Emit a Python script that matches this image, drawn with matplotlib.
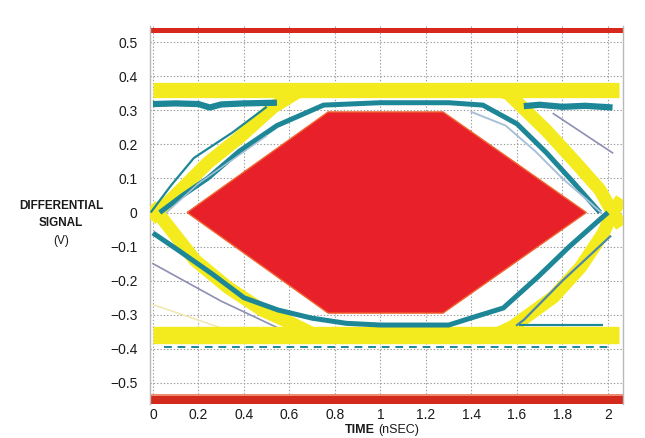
import matplotlib
matplotlib.use("Agg")
import matplotlib.pyplot as plt
from matplotlib.patches import Polygon

plt.rcParams['font.family'] = ['Liberation Sans', 'DejaVu Sans']

# ---- axis ticks ----
x_ticks = [0, 0.2, 0.4, 0.6, 0.8, 1.0, 1.2, 1.4, 1.6, 1.8, 2.0]
x_tick_labels = ['0', '0.2', '0.4', '0.6', '0.8', '1', '1.2', '1.4', '1.6', '1.8', '2']
y_ticks = [0.5, 0.4, 0.3, 0.2, 0.1, 0.0, -0.1, -0.2, -0.3, -0.4, -0.5]
y_tick_labels = ['0.5', '0.4', '0.3', '0.2', '0.1', '0',
                 '\u22120.1', '\u22120.2', '\u22120.3', '\u22120.4', '\u22120.5']

# ---- eye mask (hexagon) ----
mask_x = [0.15, 0.77, 1.275, 1.905, 1.275, 0.77]
mask_y = [0.0, 0.295, 0.295, 0.0, -0.295, -0.295]

# ---- yellow eye traces ----
yellow_top_x = [0.0, 2.05]
yellow_top_y = [0.36, 0.36]
yellow_bot_x = [0.0, 2.05]
yellow_bot_y = [-0.36, -0.36]
yellow_rise_l_x = [-0.01, 0.02, 0.09, 0.24, 0.38, 0.53, 0.64]
yellow_rise_l_y = [-0.02, 0.0, 0.045, 0.145, 0.22, 0.31, 0.355]
yellow_fall_l_x = [-0.01, 0.02, 0.185, 0.33, 0.48, 0.625, 0.70]
yellow_fall_l_y = [0.02, 0.0, -0.14, -0.22, -0.286, -0.33, -0.355]
yellow_fall_r_x = [1.50, 1.56, 1.73, 1.86, 1.965, 2.02, 2.06]
yellow_fall_r_y = [0.36, 0.35, 0.24, 0.145, 0.066, 0.0, -0.04]
yellow_rise_r_x = [1.50, 1.58, 1.76, 1.88, 1.98, 2.02, 2.06]
yellow_rise_r_y = [-0.36, -0.335, -0.248, -0.16, -0.06, 0.0, 0.04]

# ---- teal eye traces ----
teal_top_l_x = [0.0, 0.1, 0.2, 0.25, 0.3, 0.4, 0.545]
teal_top_l_y = [0.318, 0.32, 0.318, 0.308, 0.317, 0.32, 0.322]
teal_top_r_x = [1.63, 1.7, 1.8, 1.9, 2.02]
teal_top_r_y = [0.312, 0.316, 0.31, 0.313, 0.308]
teal_upper_x = [0.03, 0.13, 0.24, 0.38, 0.545, 0.75, 1.0, 1.3, 1.45, 1.6, 1.73, 1.85, 1.965]
teal_upper_y = [0.0, 0.05, 0.10, 0.18, 0.255, 0.315, 0.322, 0.322, 0.315, 0.26, 0.175, 0.087, 0.0]
teal_lower_x = [0.0, 0.11, 0.26, 0.40, 0.55, 0.70, 0.85, 1.0, 1.3, 1.395, 1.54, 1.69, 1.83, 1.965, 2.0]
teal_lower_y = [-0.06, -0.11, -0.18, -0.25, -0.286, -0.31, -0.325, -0.33, -0.33, -0.31, -0.28, -0.19, -0.10, -0.02, 0.0]
teal_outer_l_x = [-0.01, 0.08, 0.18, 0.35, 0.50]
teal_outer_l_y = [0.0, 0.08, 0.16, 0.235, 0.31]
teal_outer_r_x = [1.60, 1.63, 1.80, 2.01]
teal_outer_r_y = [-0.33, -0.315, -0.20, -0.07]
teal_bot_r_x = [1.61, 1.98]
teal_bot_r_y = [-0.33, -0.33]
teal_under_x = [0.05, 2.0]
teal_under_y = [-0.393, -0.393]

# ---- thin grey traces ----
grey_ll_x = [0.0, 0.3, 0.57]
grey_ll_y = [-0.15, -0.26, -0.345]
grey_tr_x = [1.76, 2.02]
grey_tr_y = [0.29, 0.175]
pale_ll_x = [0.0, 0.35]
pale_ll_y = [-0.27, -0.35]
light_ur_x = [1.40, 1.55, 1.68, 1.80, 1.92, 1.97]
light_ur_y = [0.295, 0.255, 0.18, 0.10, 0.03, 0.0]
light_ul_x = [0.06, 0.2, 0.35, 0.5]
light_ul_y = [0.0, 0.085, 0.155, 0.225]

YELLOW = '#F4EB1E'
TEAL = '#1E8797'
RED = '#E8202A'

fig = plt.figure(figsize=(6.45, 4.38), dpi=100)
fig.patch.set_facecolor('white')
ax = fig.add_axes([150 / 645, 1 - 404 / 438, (623 - 150) / 645, (404 - 26) / 438])
ax.set_xlim(-0.013, 2.066)
ax.set_ylim(-0.5616, 0.547)

# graticule
for yv in y_ticks:
    ax.axhline(yv, color='#9a9a9a', lw=0.8, ls=(0, (1.2, 1.8)), zorder=0)
for xv in x_ticks:
    ax.axvline(xv, color='#9a9a9a', lw=0.8, ls=(0, (1.2, 1.8)), zorder=0)

# red bands top/bottom
ax.axhspan(0.527, 0.542, color='#D8281E', lw=0, zorder=1)
ax.axhspan(-0.5616, -0.538, color='#D32A1E', lw=0, zorder=1)
ax.axhspan(-0.538, -0.532, color='#EE8A70', lw=0, zorder=1)

# thin grey traces
ax.plot(grey_ll_x, grey_ll_y, color='#8C8FB2', lw=1.2, zorder=2)
ax.plot(grey_tr_x, grey_tr_y, color='#8C8FB2', lw=1.2, zorder=2)
ax.plot(pale_ll_x, pale_ll_y, color='#EDE6A8', lw=1.0, zorder=2)

# yellow traces
yk = dict(color=YELLOW, solid_capstyle='butt', solid_joinstyle='round', zorder=3)
ax.plot(yellow_top_x, yellow_top_y, lw=11, **yk)
ax.plot(yellow_bot_x, yellow_bot_y, lw=12.5, **yk)
for xs, ys in [(yellow_rise_l_x, yellow_rise_l_y), (yellow_fall_l_x, yellow_fall_l_y),
               (yellow_fall_r_x, yellow_fall_r_y), (yellow_rise_r_x, yellow_rise_r_y)]:
    ax.plot(xs, ys, lw=9.5, **yk)

# teal traces
tk = dict(color=TEAL, solid_capstyle='butt', solid_joinstyle='round', zorder=4)
ax.plot(teal_top_l_x, teal_top_l_y, lw=4.5, **tk)
ax.plot(teal_top_r_x, teal_top_r_y, lw=4.5, **tk)
ax.plot(teal_upper_x, teal_upper_y, lw=3.6, **tk)
ax.plot(teal_lower_x, teal_lower_y, lw=3.6, **tk)
ax.plot(teal_outer_l_x, teal_outer_l_y, lw=1.6, **tk)
ax.plot(teal_outer_r_x, teal_outer_r_y, color='#4E88A4', lw=1.6, zorder=4)
ax.plot(teal_bot_r_x, teal_bot_r_y, lw=1.6, **tk)
ax.plot(teal_under_x, teal_under_y, color=TEAL, lw=1.4, ls=(0, (4, 3)), zorder=2.5)
ax.plot(light_ur_x, light_ur_y, color='#A8C0D8', lw=1.4, zorder=4.5)
ax.plot(light_ul_x, light_ul_y, color='#A8C0D8', lw=1.1, zorder=4.5)

# eye mask
mask = Polygon(list(zip(mask_x, mask_y)), closed=True, facecolor=RED,
               edgecolor='#F26430', lw=1.0, zorder=6)
ax.add_patch(mask)

ax.set_xticks(x_ticks)
ax.set_xticklabels(x_tick_labels)
ax.set_yticks(y_ticks)
ax.set_yticklabels(y_tick_labels)
ax.tick_params(axis='both', length=0, labelsize=10, colors='#1a1a1a')
ax.tick_params(axis='y', pad=9)
ax.tick_params(axis='x', pad=3)
for side in ['left', 'right']:
    ax.spines[side].set_color('#b8b8b8')
    ax.spines[side].set_linewidth(1.0)
for side in ['top', 'bottom']:
    ax.spines[side].set_visible(False)

# axis titles
fig.text(61 / 645, 1 - 206 / 438, 'DIFFERENTIAL', ha='center', va='center',
         fontsize=8.5, fontweight='bold', color='#1a1a1a')
fig.text(61 / 645, 1 - 223 / 438, 'SIGNAL', ha='center', va='center',
         fontsize=8.5, fontweight='bold', color='#1a1a1a')
fig.text(61 / 645, 1 - 241 / 438, '(V)', ha='center', va='center',
         fontsize=8.5, color='#1a1a1a')
fig.text(375 / 645, 1 - 430 / 438, 'TIME', ha='right', va='center',
         fontsize=9, fontweight='bold', color='#1a1a1a')
fig.text(378 / 645, 1 - 430 / 438, '(nSEC)', ha='left', va='center',
         fontsize=9, color='#1a1a1a')

fig.savefig('out.png', dpi=100)
